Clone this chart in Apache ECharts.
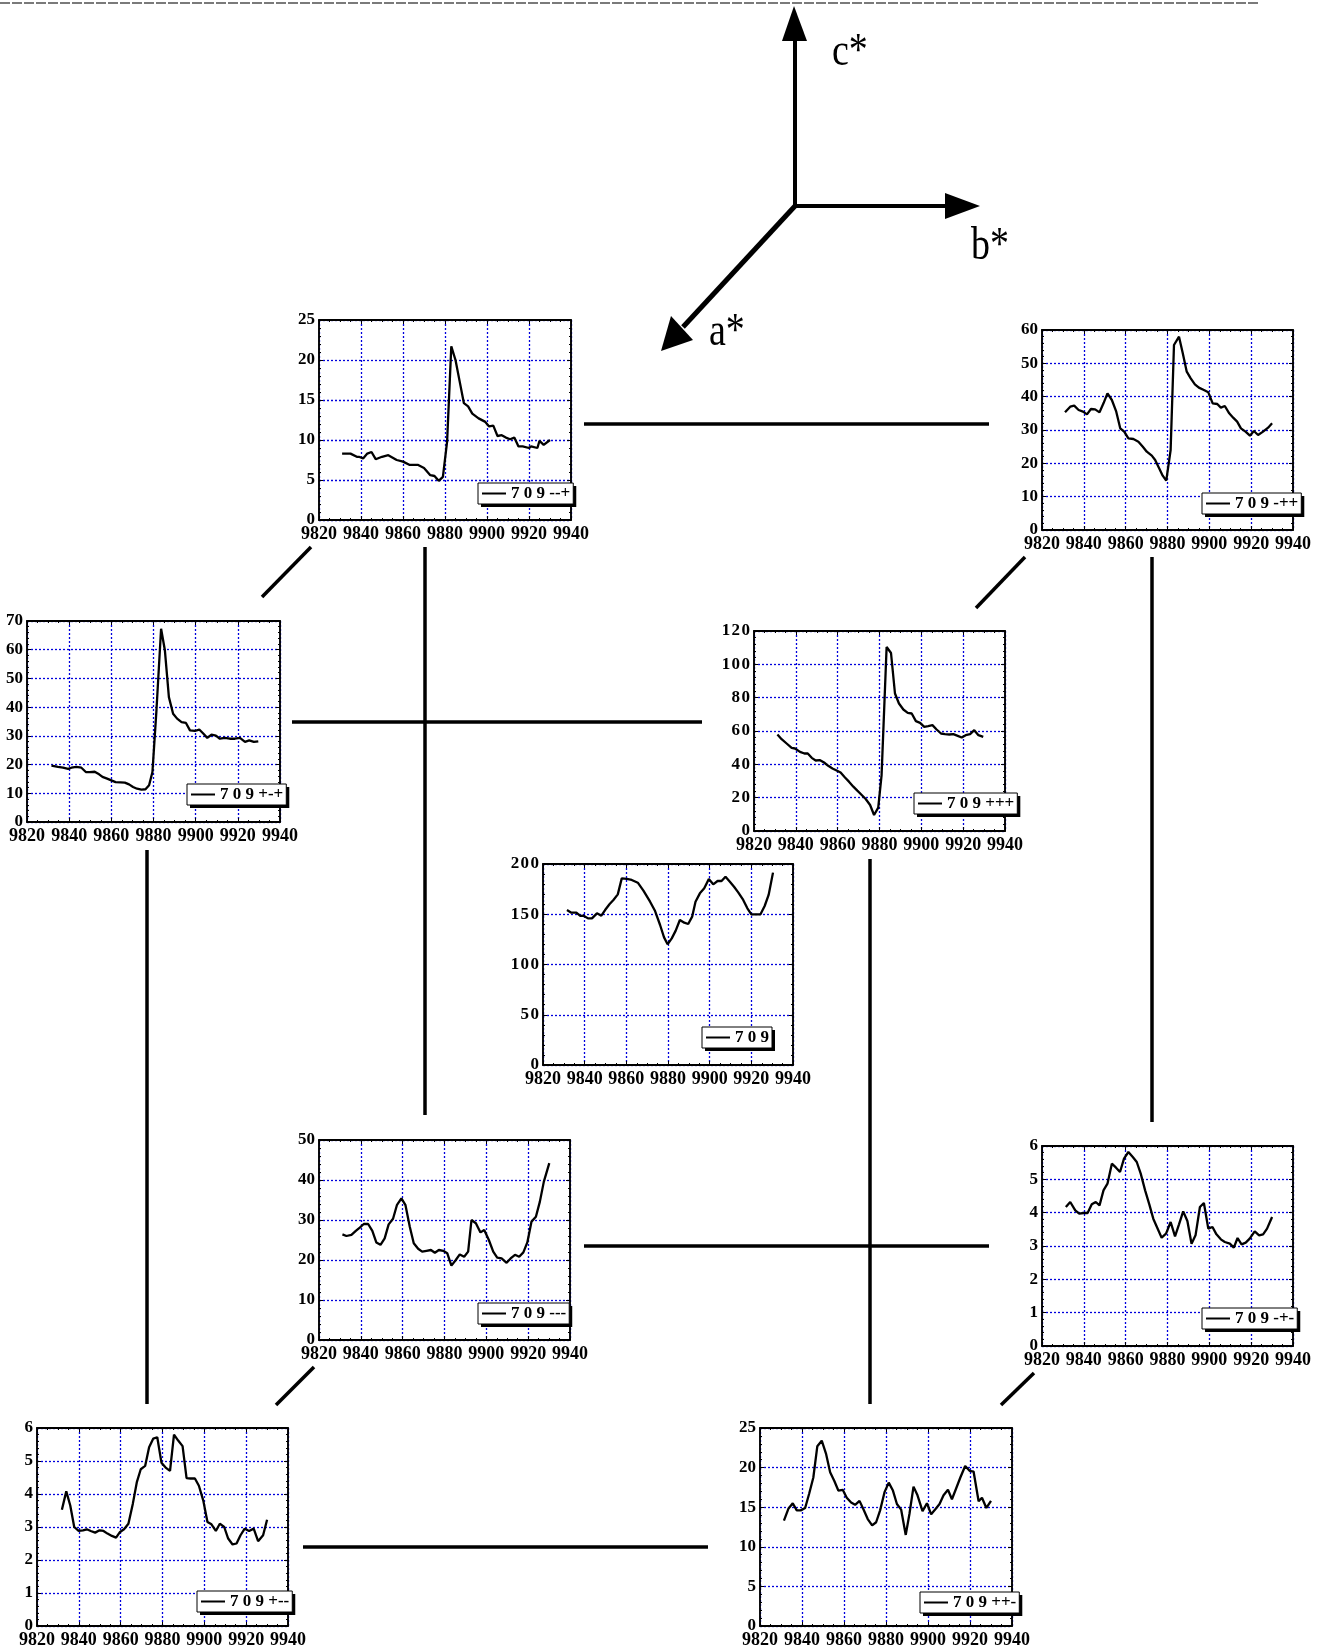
<!DOCTYPE html>
<html>
<head>
<meta charset="utf-8">
<script src="https://cdn.jsdelivr.net/npm/echarts@6/dist/echarts.min.js"></script>
<style>
html,body{margin:0;padding:0;background:#fff;}
#c{width:1320px;height:1649px;}
</style>
</head>
<body>
<div id="c"></div>
<script>
// ---------------- DATA ----------------
const xTicks = [9820, 9840, 9860, 9880, 9900, 9920, 9940];

const name_mmp = "7 0 9 --+";
const x_mmp = [9831,9835,9838,9839,9841,9843,9845,9847,9850,9853,9857,9860,9863,9867,9870,9873,9875,9877,9879,9881,9883,9885,9887,9889,9891,9893,9896,9899,9901,9903,9905,9907,9909,9911,9913,9915,9917,9920,9921,9924,9925,9927,9930];
const y_mmp = [8.3,8.3,7.9,7.9,7.7,8.3,8.5,7.6,7.9,8.1,7.5,7.3,6.9,6.9,6.5,5.6,5.5,4.9,5.4,9.8,21.7,20,17.3,14.6,14.2,13.3,12.7,12.3,11.7,11.8,10.5,10.6,10.3,10.1,10.3,9.2,9.2,9.0,9.2,9.0,9.9,9.4,10.0];

const name_mpp = "7 0 9 -++";
const x_mpp = [9831,9833.5,9835.4,9837.5,9839.6,9841.5,9843.4,9845.4,9847.5,9849.4,9851.3,9853.4,9855.5,9857.4,9859.3,9861.3,9863.7,9866.1,9868.2,9870.1,9872.5,9874.1,9876,9877.7,9879.4,9881.5,9883.1,9885.5,9887.3,9889.2,9891.1,9893.1,9895,9897.4,9899.5,9901.6,9903.8,9905.5,9907.4,9909.5,9911.4,9913.3,9915.1,9917.3,9919.4,9921.3,9923.3,9925.7,9928.1,9930];
const y_mpp = [35.3,37,37.3,36,35.5,34.7,36.3,36.2,35.3,38,41,39,35.5,30.5,29.5,27.5,27.3,26.5,25,23.5,22.3,21,18.5,16.3,14.8,24,55.5,58,53,47.5,45.5,43.7,42.7,42,41.3,38,37.8,36.7,37.2,35,33.7,32.5,30.5,29.5,28.3,29.7,28.5,29.5,30.7,32];

const name_pmp = "7 0 9 +-+";
const x_pmp = [9831.6,9834.7,9837.1,9839.5,9841.1,9843.4,9845.8,9847.9,9849.8,9852.1,9854.2,9855.8,9858,9860,9862,9864.3,9866.4,9868.4,9870.3,9872.2,9874.3,9876.2,9877.9,9879.5,9881.4,9883.6,9885.4,9887.3,9889.3,9891.2,9893.3,9895.4,9897.3,9899.6,9901.7,9903.6,9905.5,9907.5,9909.6,9911.5,9913.9,9916.2,9918.6,9921,9923.4,9925.4,9927.6,9929.7];
const y_pmp = [19.6,19.2,18.9,18.5,18.9,19.2,18.9,17.4,17.4,17.5,16.6,15.7,15.1,14.5,13.9,13.8,13.7,13.1,12.2,11.6,11.3,11.4,12.8,17.4,38.9,67.3,59.8,43.5,37.7,36,34.8,34.5,31.9,31.7,32.2,30.8,29.3,30.4,30.1,29,29.3,29,29,29.3,27.9,28.4,27.9,28.1];

const name_ppp = "7 0 9 +++";
const x_ppp = [9831.2,9833.2,9835.6,9838,9839.6,9842,9844.1,9845.7,9847.6,9849.5,9851.6,9853.5,9855.5,9857.5,9859.5,9861.4,9863.5,9865.4,9867.5,9869.4,9871.5,9873.4,9875.5,9877.4,9879.4,9881,9883.4,9885.5,9887.4,9889.3,9891.4,9893.5,9895.4,9897.4,9899.4,9901.4,9903.3,9905.3,9907.3,9909.4,9911.3,9913.4,9915.3,9917.4,9919.3,9921.2,9923.3,9925.3,9927.3,9929.6];
const y_ppp = [57.9,55.1,52.5,49.9,49.5,47.5,46.5,46.5,43.9,42.3,42.5,41.1,39.1,37.5,36.3,35.1,32.1,29.6,26.6,24.2,21.6,19.2,15.6,9.6,14,33.5,110.4,106.8,82.5,76.5,72.9,70.9,70.5,65.9,64.9,62.5,62.9,63.5,60.9,58.5,58.1,57.9,58.1,57.1,56.1,57.5,58.1,60.5,57.5,56.5];

const name_all = "7 0 9";
const x_all = [9831.5,9833.6,9836,9837.9,9839.5,9841.6,9843.5,9845.9,9848,9849.8,9851.9,9853.8,9855.9,9857.8,9860.2,9862.6,9865.5,9868.2,9871.4,9873.8,9876.2,9878.1,9879.8,9881.8,9883.7,9885.7,9887.8,9889.7,9891.6,9893.2,9895.3,9897.4,9899.6,9901.7,9903.8,9905.7,9907.6,9909.7,9911.7,9913.7,9916.1,9918.1,9920,9922.4,9924.4,9926.4,9928.3,9930.4];
const y_all = [154.2,151.6,151.6,148.3,148.6,145.9,145.9,150.9,148.6,154.2,159.9,164.2,169.8,185.7,185.1,184.1,181.4,173.5,162.5,153.2,139.3,127,120.1,126,133.7,144.3,141.6,140.3,147.6,162.5,170.8,175.8,185.1,179.8,183.1,183.1,187.4,182.4,177.4,171.8,164.2,155.9,149.9,149.9,149.9,158.2,169.2,191.4];

const name_mmm = "7 0 9 ---";
const x_mmm = [9831.2,9833.1,9835.5,9837.6,9839.5,9841.4,9843.5,9845.5,9847.4,9849.4,9851.4,9853.3,9855.4,9857.3,9859.4,9861.3,9863.4,9865.3,9867.4,9869.3,9871.4,9873.5,9875.4,9877.3,9879.4,9881.3,9883.3,9885.4,9887.3,9889.4,9891.3,9892.9,9895,9897.2,9899,9901.2,9903.3,9905.2,9907.3,9909.7,9911.6,9913.7,9915.7,9917.7,9919.6,9921.6,9923.7,9925.6,9927.5,9930.1];
const y_mmm = [26.4,26,26.3,27.3,28.1,29,29,27.3,24.4,23.8,25.4,28.9,30.3,33.8,35.4,33.8,28.3,24.2,22.8,22.1,22.3,22.5,21.8,22.5,22.3,21.7,18.6,20,21.4,20.8,22.1,30,29.2,26.9,27.5,25,22.1,20.6,20.4,19.3,20.4,21.3,20.8,21.9,24.4,29.6,30.8,34.6,39.6,44.2];

const name_mpm = "7 0 9 -+-";
const x_mpm = [9831.4,9833.5,9835.9,9837.8,9839.9,9841.8,9843.8,9845.7,9847.5,9849.4,9851.3,9853.4,9855.4,9857.3,9859.2,9861.3,9863.4,9865.3,9867.2,9869.3,9871.3,9873.2,9875.3,9877.2,9879.3,9881.5,9883.6,9885.5,9887.5,9889.5,9891.5,9893.4,9895.5,9897.4,9899.5,9901.5,9903.4,9905.5,9907.4,9909.8,9911.7,9913.5,9915.4,9917.4,9919.3,9921.7,9923.8,9925.7,9927.6,9930];
const y_mpm = [4.17,4.32,4.07,3.97,3.99,3.99,4.25,4.32,4.22,4.67,4.87,5.47,5.35,5.22,5.62,5.82,5.67,5.52,5.17,4.67,4.25,3.82,3.52,3.25,3.37,3.72,3.29,3.65,4.04,3.75,3.07,3.32,4.17,4.29,3.52,3.57,3.35,3.2,3.12,3.07,2.95,3.24,3.05,3.1,3.22,3.44,3.32,3.35,3.52,3.87];

const name_pmm = "7 0 9 +--";
const x_pmm = [9831.9,9834,9835.9,9837.8,9839.9,9842,9843.8,9845.7,9847.8,9849.9,9851.8,9853.7,9855.8,9857.8,9859.7,9861.6,9863.7,9865.8,9867.7,9869.6,9871.7,9873.6,9875.6,9877.5,9879.5,9881.5,9883.6,9885.5,9887.5,9889.6,9891.5,9893.4,9895.5,9897.4,9899.5,9901.5,9903.4,9905.5,9907.4,9909.5,9911.4,9913.5,9915.4,9917.3,9919.3,9921.4,9923.6,9925.7,9928.1,9930];
const y_pmm = [3.52,4.08,3.65,3.0,2.88,2.9,2.93,2.88,2.83,2.9,2.88,2.8,2.73,2.68,2.85,2.93,3.1,3.7,4.35,4.75,4.85,5.42,5.68,5.72,4.95,4.8,4.7,5.8,5.62,5.45,4.48,4.47,4.47,4.25,3.8,3.15,3.08,2.88,3.1,3.0,2.65,2.47,2.5,2.75,2.95,2.88,2.95,2.57,2.75,3.22];

const name_ppm = "7 0 9 ++-";
const x_ppm = [9831.4,9833.5,9835.6,9837.5,9839.4,9841.5,9843.4,9845.4,9847.3,9849.4,9851.5,9853.4,9855.4,9857.3,9859.4,9861.3,9863.4,9865.3,9867.4,9869.3,9871.3,9873.4,9875.3,9877.2,9879.3,9881.3,9883.3,9885.2,9887.2,9889.4,9891.2,9893.1,9895,9897.4,9899.5,9901.5,9903.4,9905.5,9907.4,9909.5,9911.4,9913.3,9915.4,9917.7,9919.8,9921.7,9924.1,9925.7,9927.8,9930];
const y_ppm = [13.3,14.8,15.5,14.6,14.6,14.9,16.7,18.75,22.7,23.4,21.7,19.4,18.3,17.1,17.2,16.2,15.6,15.3,15.8,14.7,13.5,12.7,13.1,14.6,16.9,18.1,17.1,15.4,14.7,11.5,14.2,17.6,16.5,14.5,15.5,14.1,14.7,15.4,16.5,17.2,16,17.3,18.75,20.2,19.6,19.5,15.75,16.2,14.9,15.8];

// y-axis scales (max, step) per panel
const yMax  = [25, 60, 70, 120, 200, 50, 6, 6, 25];
const yStep = [5, 10, 10, 20, 50, 10, 1, 1, 5];

// ---------------- LAYOUT ----------------
const panels = [
  {name:name_mmp, xs:x_mmp, ys:y_mmp, box:[319,320,252,200], leg:[478,483], spaced:false},
  {name:name_mpp, xs:x_mpp, ys:y_mpp, box:[1042,330,251,200], leg:[1202,493], spaced:false},
  {name:name_pmp, xs:x_pmp, ys:y_pmp, box:[27,621,253,201], leg:[187,784], spaced:false},
  {name:name_ppp, xs:x_ppp, ys:y_ppp, box:[754,631,251,200], leg:[914,793], spaced:true},
  {name:name_all, xs:x_all, ys:y_all, box:[543,864,250,201], leg:[702,1027], spaced:true},
  {name:name_mmm, xs:x_mmm, ys:y_mmm, box:[319,1140,251,200], leg:[478,1303], spaced:false},
  {name:name_mpm, xs:x_mpm, ys:y_mpm, box:[1042,1146,251,200], leg:[1202,1308], spaced:false},
  {name:name_pmm, xs:x_pmm, ys:y_pmm, box:[37,1428,251,200], leg:[197,1591], spaced:false},
  {name:name_ppm, xs:x_ppm, ys:y_ppm, box:[760,1428,252,200], leg:[920,1592], spaced:false}
];

const FONT = 'Liberation Serif';
const LEG_FS = 17, LEG_PAD = [2,3,2,4], LEG_IW = 24;
const grids=[], xAxes=[], yAxes=[], series=[], legends=[], graphics=[];
const gridLine = {show:true, lineStyle:{color:'#0000dd', type:[2,2], width:1.3}};
const axLine = {show:true, onZero:false, lineStyle:{color:'#000', width:1.8}};
const tick = {show:true, inside:true, length:4, lineStyle:{color:'#000', width:1}};

const measureCtx = document.createElement('canvas').getContext('2d');
measureCtx.font = 'bold ' + LEG_FS + 'px "' + FONT + '"';

panels.forEach((p,i)=>{
  grids.push({left:p.box[0], top:p.box[1], width:p.box[2], height:p.box[3], show:true, borderColor:'#000', borderWidth:1, backgroundColor:'#fff'});
  const xBase = {gridIndex:i, type:'value', min:xTicks[0], max:xTicks[xTicks.length-1], interval:xTicks[1]-xTicks[0]};
  xAxes.push(Object.assign({}, xBase, {
    position:'bottom', axisLine:axLine, axisTick:tick,
    minorTick:{show:true, splitNumber:4, length:2, lineStyle:{color:'#000'}},
    splitLine:gridLine,
    axisLabel:{show:true, margin:5, color:'#000', fontFamily:FONT, fontWeight:'bold', fontSize:18, formatter:v=>String(v)}
  }));
  xAxes.push(Object.assign({}, xBase, {
    position:'top', axisLine:axLine, axisTick:tick,
    minorTick:{show:true, splitNumber:4, length:2, lineStyle:{color:'#000'}},
    splitLine:{show:false}, axisLabel:{show:false}
  }));
  const yBase = {gridIndex:i, type:'value', min:0, max:yMax[i], interval:yStep[i]};
  const fmt = p.spaced ? (v => String(v).split('').join('\u200A')) : (v => String(v));
  yAxes.push(Object.assign({}, yBase, {
    position:'left', axisLine:axLine, axisTick:tick,
    minorTick:{show:true, splitNumber:5, length:2, lineStyle:{color:'#000'}},
    splitLine:gridLine,
    axisLabel:{show:true, margin:4, color:'#000', fontFamily:FONT, fontWeight:'bold', fontSize:17, formatter:fmt}
  }));
  yAxes.push(Object.assign({}, yBase, {
    position:'right', axisLine:axLine, axisTick:tick,
    minorTick:{show:true, splitNumber:5, length:2, lineStyle:{color:'#000'}},
    splitLine:{show:false}, axisLabel:{show:false}
  }));
  series.push({
    type:'line', name:p.name, xAxisIndex:2*i, yAxisIndex:2*i,
    data:p.xs.map((x,k)=>[x, p.ys[k]]),
    symbol:'none', showSymbol:false, smooth:false,
    lineStyle:{color:'#000', width:2.3}, itemStyle:{color:'#000'}, z:5
  });
  legends.push({
    data:[p.name], left:p.leg[0], top:p.leg[1], orient:'horizontal', z:10,
    icon:'rect', selectedMode:false, padding:LEG_PAD, itemWidth:LEG_IW, itemHeight:2, itemGap:5,
    backgroundColor:'#fff', borderColor:'#000', borderWidth:1,
    itemStyle:{color:'#000'},
    textStyle:{fontFamily:FONT, fontWeight:'bold', fontSize:LEG_FS, color:'#000'}
  });
  // solid drop shadow behind the legend box
  const tw = measureCtx.measureText(p.name).width;
  const bw = LEG_PAD[3] + LEG_IW + 5 + tw + LEG_PAD[1];
  const bh = LEG_PAD[0] + LEG_FS + LEG_PAD[2];
  graphics.push({type:'rect', z:8, shape:{x:p.leg[0]+3, y:p.leg[1]+3, width:bw, height:bh}, style:{fill:'#000'}});
});

// ---------------- DECORATION (cube edges, reciprocal axes) ----------------
function seg(x1,y1,x2,y2,w){
  return {type:'line', shape:{x1,y1,x2,y2}, style:{stroke:'#000', lineWidth:w}, z:1};
}
const edges = [
  [584,424,989,424],[311,547,262,597],[425,547,425,1115],[292,722,702,722],
  [1025,557,976,608],[1152,557,1152,1122],[147,850,147,1404],[870,859,870,1404],
  [584,1246,989,1246],[314,1367,276,1405],[1034,1373,1001,1405],[303,1547,708,1547]
];
graphics.push({type:'line', shape:{x1:0,y1:3,x2:1258,y2:3}, style:{stroke:'#7a7a7a', lineWidth:2, lineDash:[10,2]}});
edges.forEach(e=>graphics.push(seg(e[0],e[1],e[2],e[3],3.5)));
// arrows
graphics.push(seg(795,206,795,38,4));
graphics.push({type:'polygon', shape:{points:[[794,6],[782,41],[807,41]]}, style:{fill:'#000'}});
graphics.push(seg(795,206,947,206,4));
graphics.push({type:'polygon', shape:{points:[[980,206],[945,193],[945,219]]}, style:{fill:'#000'}});
graphics.push(seg(795,206,683,327,5));
graphics.push({type:'polygon', shape:{points:[[661,351],[671,316],[693,340]]}, style:{fill:'#000'}});
function lbl(t,x,y){
  return {type:'text', x:x, y:y, scaleY:1.2, style:{text:t, x:0, y:0, fill:'#000', fontFamily:FONT, fontSize:38, fontWeight:'normal', verticalAlign:'middle', align:'left'}};
}
graphics.push(lbl('c*', 832, 53));
graphics.push(lbl('b*', 971, 247));
graphics.push(lbl('a*', 709, 333));

const chart = echarts.init(document.getElementById('c'), null, {renderer:'canvas'});
chart.setOption({
  animation:false,
  backgroundColor:'#fff',
  grid:grids, xAxis:xAxes, yAxis:yAxes, series:series, legend:legends,
  graphic:graphics
});
</script>
</body>
</html>
